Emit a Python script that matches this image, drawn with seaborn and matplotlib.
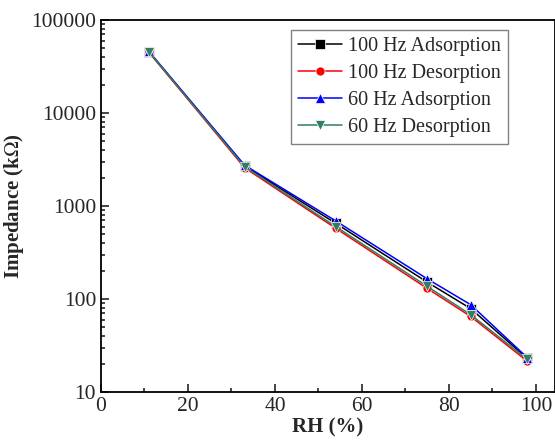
import matplotlib
matplotlib.use("Agg")
import matplotlib.pyplot as plt
import matplotlib.ticker as mticker
import seaborn as sns
import pandas as pd

rh = [11, 33, 54, 75, 85, 98]
ads_100 = [45500, 2700, 650, 152, 79, 23.0]
des_100 = [45000, 2580, 575, 130, 65, 21.5]
ads_60 = [46000, 2750, 690, 165, 87, 23.5]
des_60 = [45500, 2650, 600, 137, 68, 22.5]
series_names = ["100 Hz Adsorption", "100 Hz Desorption", "60 Hz Adsorption", "60 Hz Desorption"]
series_vals = [ads_100, des_100, ads_60, des_60]
xticks = [0, 20, 40, 60, 80, 100]
yticks = [10, 100, 1000, 10000, 100000]

rows = []
for name, vals in zip(series_names, series_vals):
    for x, y in zip(rh, vals):
        rows.append({"RH": x, "Z": y, "Series": name})
df = pd.DataFrame(rows)

sns.set_style("ticks")
plt.rcParams["font.family"] = ["Liberation Serif", "DejaVu Serif"]
plt.rcParams["mathtext.fontset"] = "stix"

fig = plt.figure(figsize=(5.55, 4.43), dpi=100)
ax = fig.add_axes([0.182, 0.115, 0.818, 0.84])

palette = {"100 Hz Adsorption": "black", "100 Hz Desorption": "red",
           "60 Hz Adsorption": "blue", "60 Hz Desorption": "#2f7f62"}
markers = {"100 Hz Adsorption": "s", "100 Hz Desorption": "o",
           "60 Hz Adsorption": "^", "60 Hz Desorption": "v"}
sns.lineplot(data=df, x="RH", y="Z", hue="Series", style="Series",
             hue_order=series_names, style_order=series_names,
             palette=palette, markers=markers, dashes=False,
             markersize=6.5, linewidth=1.1, markeredgewidth=0.5, ax=ax)

ax.set_yscale("log")
ax.set_ylim(10, 100000)
ax.set_xlim(0, 104.4)
ax.set_xticks(xticks)
ax.xaxis.set_minor_locator(mticker.MultipleLocator(10))
ax.set_yticks(yticks)
ax.yaxis.set_major_formatter(mticker.FixedFormatter([str(v) for v in yticks]))
ax.yaxis.set_minor_locator(mticker.LogLocator(base=10, subs=range(2, 10), numticks=20))
ax.yaxis.set_minor_formatter(mticker.NullFormatter())
ax.tick_params(which="both", direction="in", top=False, right=False, labelsize=15.5, width=1.2)
ax.tick_params(which="major", length=6)
ax.tick_params(which="minor", length=3)
for s in ax.spines.values():
    s.set_linewidth(1.3)
    s.set_color("black")

ax.set_xlabel("RH (%)", fontsize=15, fontweight="bold", labelpad=1)
ax.set_ylabel("Impedance (k$\\Omega$)", fontsize=15, fontweight="bold", labelpad=4)

leg = ax.legend(loc="upper right", bbox_to_anchor=(0.905, 0.985), fontsize=14.5,
                frameon=True, fancybox=False, edgecolor="gray", framealpha=1,
                handlelength=2.2, handletextpad=0.3, borderpad=0.35, labelspacing=0.4,
                borderaxespad=0.2)
leg.get_frame().set_linewidth(1.0)

fig.savefig("out.png", dpi=100)
